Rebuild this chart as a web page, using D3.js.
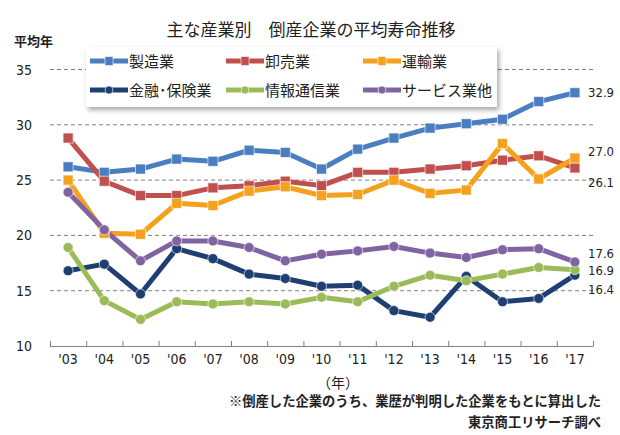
<!DOCTYPE html>
<html><head><meta charset="utf-8">
<script src="https://cdn.jsdelivr.net/npm/d3@7"></script>
<style>
body{margin:0;background:#fff;}
svg{display:block;}
.num{font-family:"Liberation Sans Narrow","DejaVu Sans Condensed","Liberation Sans",sans-serif;}
.jp{font-family:"Noto Sans CJK JP","Noto Sans CJK SC",sans-serif;}
</style></head>
<body>
<svg id="c" width="620" height="435"></svg>
<script>
const years = ["'03","'04","'05","'06","'07","'08","'09","'10","'11","'12","'13","'14","'15","'16","'17"];
const seriesNames = ["製造業","卸売業","運輸業","金融･保険業","情報通信業","サービス業他"];
const manufacturing = [26.2,25.7,26.0,26.9,26.7,27.7,27.5,26.0,27.8,28.8,29.7,30.1,30.5,32.1,32.9];
const wholesale     = [28.8,24.9,23.6,23.6,24.3,24.5,24.9,24.5,25.7,25.7,26.0,26.3,26.8,27.2,26.1];
const transport     = [25.0,20.2,20.1,22.9,22.7,24.0,24.4,23.6,23.7,25.0,23.8,24.1,28.3,25.1,27.0];
const finance       = [16.8,17.4,14.7,18.8,17.9,16.5,16.1,15.4,15.5,13.2,12.6,16.3,14.0,14.3,16.4];
const infoComm      = [18.9,14.1,12.4,14.0,13.8,14.0,13.8,14.4,14.0,15.4,16.4,15.9,16.5,17.1,16.9];
const services      = [23.9,20.5,17.7,19.5,19.5,18.9,17.7,18.3,18.6,19.0,18.4,18.0,18.7,18.8,17.6];
const yTicks = [10,15,20,25,30,35];
const endLabels = ["32.9","27.0","26.1","17.6","16.9","16.4"];

const colors = ["#4a7ec0","#c0504d","#f4a11d","#1f3f72","#9bbb59","#8064a2"];
const markerTypes = ["square","square","square","circle","circle","circle"];
const allSeries = [manufacturing,wholesale,transport,finance,infoComm,services];
// right end labels: which series each belongs to, and manual vertical offsets (px)
const endLabelSeries = [0,2,1,5,4,3];
const endLabelDy = [0,-6,15,-8,0.5,14];

const svg = d3.select("#c");
const x = d3.scaleBand().domain(years).range([50,593]).padding(0);
const y = d3.scaleLinear().domain([10,35]).range([346,69.5]);
const cx = d => x(d) + x.bandwidth()/2;

// title
svg.append("text").attr("class","jp").attr("x",311).attr("y",36)
  .attr("text-anchor","middle").attr("font-size",17).attr("fill","#222")
  .text("主な産業別　倒産企業の平均寿命推移");
svg.append("text").attr("class","jp").attr("x",14).attr("y",46)
  .attr("font-size",13).attr("font-weight",700).attr("fill","#222").text("平均年");

// gridlines
yTicks.filter(v=>v>10).forEach(v=>{
  svg.append("line").attr("x1",50).attr("x2",593).attr("y1",y(v)).attr("y2",y(v))
    .attr("stroke","#808080").attr("stroke-width",1).attr("stroke-dasharray","4,3");
});
// y labels
yTicks.forEach(v=>{
  svg.append("text").attr("class","num").attr("x",32).attr("y",y(v)+5)
    .attr("text-anchor","end").attr("font-size",14).attr("fill","#222").text(v);
});
// x axis
svg.append("line").attr("x1",50).attr("x2",593).attr("y1",346.5).attr("y2",346.5)
  .attr("stroke","#808080").attr("stroke-width",1);
years.concat(["end"]).forEach((d,i)=>{
  const xx = (i<years.length? x(d) : x.range()[1]) + 0.5;
  svg.append("line").attr("x1",xx).attr("x2",xx).attr("y1",341).attr("y2",346.5)
    .attr("stroke","#808080").attr("stroke-width",1);
});
years.forEach(d=>{
  svg.append("text").attr("class","num").attr("x",cx(d)).attr("y",364)
    .attr("text-anchor","middle").attr("font-size",14).attr("fill","#222").text(d);
});

// series
const line = d3.line().x((v,i)=>cx(years[i])).y(v=>y(v));
allSeries.forEach((s,k)=>{
  svg.append("path").attr("d",line(s)).attr("fill","none")
    .attr("stroke",colors[k]).attr("stroke-width",5).attr("stroke-linejoin","round");
});
function marker(g, type, px, py, col, w, h){
  if(type==="square"){
    g.append("rect").attr("x",px-w/2).attr("y",py-h/2).attr("width",w).attr("height",h)
      .attr("fill",col).attr("stroke","#fff").attr("stroke-opacity",0.6).attr("stroke-width",1);
  } else {
    g.append("circle").attr("cx",px).attr("cy",py).attr("r",w/2)
      .attr("fill",col).attr("stroke","#fff").attr("stroke-opacity",0.6).attr("stroke-width",1);
  }
}
allSeries.forEach((s,k)=>{
  const g = svg.append("g");
  s.forEach((v,i)=>marker(g, markerTypes[k], cx(years[i]), y(v), colors[k], 10, 10));
});

// end labels
endLabels.forEach((t,j)=>{
  const s = allSeries[endLabelSeries[j]];
  svg.append("text").attr("class","num").attr("x",588)
    .attr("y",y(s[s.length-1])+4.5+endLabelDy[j])
    .attr("font-size",13).attr("fill","#222").text(t);
});

// legend
const defs = svg.append("defs");
const f = defs.append("filter").attr("id","sh").attr("x","-10%").attr("y","-20%").attr("width","130%").attr("height","160%");
f.append("feDropShadow").attr("dx",2).attr("dy",3).attr("stdDeviation",2.5).attr("flood-color","#000").attr("flood-opacity",0.35);
const lg = svg.append("g");
lg.append("rect").attr("x",86).attr("y",47).attr("width",411).attr("height",60)
  .attr("fill","#fff").attr("filter","url(#sh)");
const colX = [90,226,363];
const rowY = [61,90];
seriesNames.forEach((n,k)=>{
  const lx = colX[k%3], ly = rowY[Math.floor(k/3)];
  lg.append("line").attr("x1",lx).attr("x2",lx+38).attr("y1",ly).attr("y2",ly)
    .attr("stroke",colors[k]).attr("stroke-width",5);
  marker(lg, markerTypes[k], lx+19, ly, colors[k], 8, 9);
  lg.append("text").attr("class","jp").attr("x",lx+39).attr("y",ly+6)
    .attr("font-size",15).attr("fill","#222").text(n);
});

// footnotes
svg.append("text").attr("class","jp").attr("x",338).attr("y",388)
  .attr("text-anchor","middle").attr("font-size",14).attr("fill","#222").text("（年）");
svg.append("text").attr("class","jp").attr("x",601).attr("y",406)
  .attr("text-anchor","end").attr("font-size",13.3).attr("font-weight",700).attr("fill","#222")
  .text("※倒産した企業のうち、業歴が判明した企業をもとに算出した");
svg.append("text").attr("class","jp").attr("x",601).attr("y",427)
  .attr("text-anchor","end").attr("font-size",13.3).attr("font-weight",700).attr("fill","#222")
  .text("東京商工リサーチ調べ");
</script>
</body></html>
